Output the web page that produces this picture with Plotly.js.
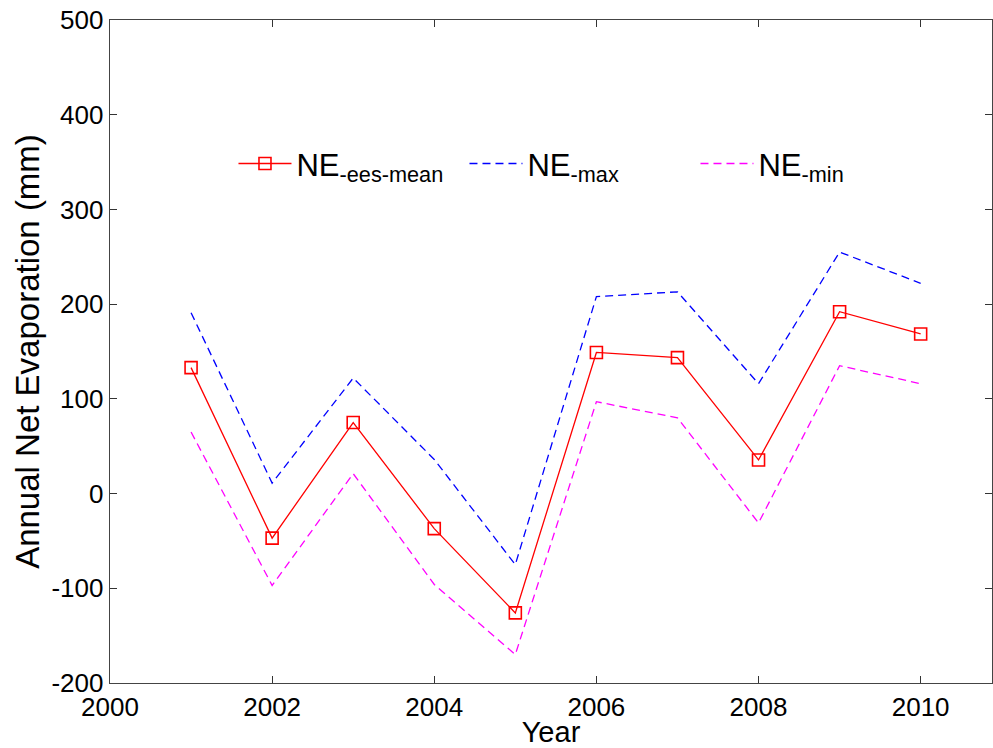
<!DOCTYPE html>
<html>
<head>
<meta charset="utf-8">
<script src="https://cdn.plot.ly/plotly-3.0.1.min.js"></script>
<style>html,body{margin:0;padding:0;background:#fff;}#chart{width:993px;height:748px;}</style>
</head>
<body>
<div id="chart"></div>
<script>
var years = [2001, 2002, 2003, 2004, 2005, 2006, 2007, 2008, 2009, 2010];
var neMean = [133, -47, 75, -37, -126, 149, 143.5, 35.5, 192, 168.5];
var neMax  = [191, 11, 122, 36, -75, 208, 213, 116, 255, 222];
var neMin  = [65, -97, 21, -96, -170, 97, 80, -31, 135, 116];
var xTicks = [2000, 2002, 2004, 2006, 2008, 2010];
var yTicks = [-200, -100, 0, 100, 200, 300, 400, 500];

var FONT = 'Liberation Sans, Arial, Helvetica, sans-serif';

var traces = [
  {x: years, y: neMean, type: 'scatter', mode: 'lines+markers',
   name: 'NE<sub>-ees-mean</sub>',
   line: {color: '#ff0000', width: 1.3},
   marker: {symbol: 'square-open', size: 12, color: '#ff0000', line: {width: 1.6, color: '#ff0000'}}},
  {x: years, y: neMax, type: 'scatter', mode: 'lines',
   name: 'NE<sub>-max</sub>',
   line: {color: '#0000ff', width: 1.3, dash: '8px,5px'}},
  {x: years, y: neMin, type: 'scatter', mode: 'lines',
   name: 'NE<sub>-min</sub>',
   line: {color: '#ff00ff', width: 1.3, dash: '8px,5px'}}
];

var layout = {
  width: 993, height: 748,
  margin: {l: 110, r: 1, t: 20, b: 65},
  paper_bgcolor: '#ffffff', plot_bgcolor: '#ffffff',
  font: {family: FONT, size: 26, color: '#000'},
  showlegend: true,
  legend: {
    orientation: 'h', x: 0.14, y: 0.783, xanchor: 'left', yanchor: 'middle',
    bgcolor: 'rgba(0,0,0,0)', borderwidth: 0,
    font: {family: FONT, size: 31, color: '#000'},
    entrywidth: 163, entrywidthmode: 'pixels', itemwidth: 53
  },
  xaxis: {
    range: [2000, 2010.88], tickvals: xTicks, ticktext: xTicks.map(String),
    ticks: 'inside', ticklen: 7, tickcolor: '#333', tickwidth: 1,
    showline: true, linecolor: '#444', linewidth: 1.3, mirror: 'ticks',
    showgrid: false, zeroline: false,
    tickfont: {family: FONT, size: 26, color: '#000'},
    title: {text: 'Year', font: {family: FONT, size: 29, color: '#000'}, standoff: 4}
  },
  yaxis: {
    range: [-200, 500], tickvals: yTicks, ticktext: yTicks.map(String),
    ticks: 'inside', ticklen: 7, tickcolor: '#333', tickwidth: 1,
    showline: true, linecolor: '#444', linewidth: 1.3, mirror: 'ticks',
    showgrid: false, zeroline: false,
    tickfont: {family: FONT, size: 26, color: '#000'},
    title: {text: 'Annual Net Evaporation (mm)', font: {family: FONT, size: 33, color: '#000'}, standoff: 2}
  }
};

Plotly.newPlot('chart', traces, layout, {displayModeBar: false, staticPlot: true});
</script>
</body>
</html>
